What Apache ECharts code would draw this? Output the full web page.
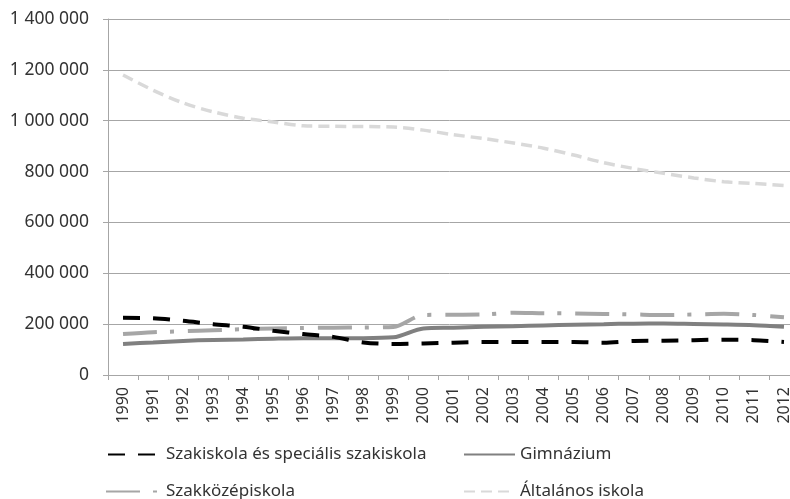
<!DOCTYPE html>
<html>
<head>
<meta charset="utf-8">
<script src="https://cdn.jsdelivr.net/npm/echarts@6/dist/echarts.min.js"></script>
<style>
  html, body { margin: 0; padding: 0; background: #fff; }
  #chart { width: 790px; height: 499px; }
</style>
</head>
<body>
<div id="chart"></div>
<script>
// Tanulók száma iskolatípusonként, 1990–2012
const years = ['1990','1991','1992','1993','1994','1995','1996','1997','1998','1999','2000','2001',
  '2002','2003','2004','2005','2006','2007','2008','2009','2010','2011','2012'];

const szakiskola = [225000, 223000, 213000, 200000, 190000, 174000, 161000, 150000, 128000, 122000, 124000, 127000,
  130000, 130000, 130000, 130000, 127000, 134000, 135000, 137000, 139000, 137000, 130000];

const gimnazium = [122000, 128000, 134000, 138000, 140000, 143000, 145000, 145000, 145000, 148000, 183000, 186000,
  190000, 192000, 195000, 198000, 200000, 202000, 203000, 201000, 199000, 196000, 190000];

const szakkozep = [161000, 168000, 172000, 176000, 180000, 183000, 185000, 186000, 187000, 189000, 236000, 237000,
  238000, 245000, 243000, 242000, 240000, 238000, 236000, 238000, 241000, 236000, 227000];

const altalanos = [1180000, 1120000, 1070000, 1035000, 1010000, 995000, 980000, 978000, 977000, 975000, 963000, 945000,
  930000, 912000, 892000, 865000, 835000, 812000, 793000, 775000, 760000, 753000, 745000];

const seriesNames = ['Szakiskola és speciális szakiskola', 'Gimnázium', 'Szakközépiskola', 'Általános iskola'];

const FONT = 'Noto Sans';
const TEXT = '#333333';

// Thousands separated by spaces: 1 400 000
function fmt(v) {
  return String(v).replace(/\B(?=(\d{3})+(?!\d))/g, ' ');
}

function lineSeries(name, data, color, width, type, z) {
  return {
    name: name, type: 'line', data: data, symbol: 'none', smooth: 0.3, z: z,
    lineStyle: { color: color, width: width, type: type, cap: 'butt' },
    itemStyle: { color: color },
    emphasis: { disabled: true }
  };
}

// One legend block per entry so the two-column layout lines up
function legendAt(name, left, top, iconWidth) {
  return {
    data: [name], left: left, top: top, itemWidth: iconWidth, itemHeight: 12, itemGap: 10,
    itemStyle: { opacity: 0 },
    textStyle: { fontFamily: FONT, fontSize: 17, color: TEXT }
  };
}

const chart = echarts.init(document.getElementById('chart'), null, { renderer: 'canvas' });
chart.setOption({
  animation: false,
  backgroundColor: '#fff',
  grid: { left: 108, top: 19, right: -9, bottom: 124, containLabel: false, outerBoundsMode: 'none' },
  xAxis: {
    type: 'category', data: years, boundaryGap: true,
    axisLine: { lineStyle: { color: '#a6a6a6', width: 1 } },
    axisTick: { show: true, length: 5, lineStyle: { color: '#a6a6a6' } },
    axisLabel: { rotate: 90, interval: 0, fontFamily: FONT, fontSize: 16, color: TEXT, margin: 12 }
  },
  yAxis: {
    type: 'value', min: 0, max: 1400000, interval: 200000,
    axisLine: { show: true, lineStyle: { color: '#a6a6a6', width: 1 } },
    axisTick: { show: true, length: 5, lineStyle: { color: '#a6a6a6' } },
    axisLabel: { formatter: fmt, fontFamily: FONT, fontSize: 17.5, color: TEXT, margin: 19 },
    splitLine: { lineStyle: { color: '#a6a6a6', width: 1 } }
  },
  legend: [
    legendAt(seriesNames[0], 102, 441, 53),
    legendAt(seriesNames[1], 458, 441, 51),
    legendAt(seriesNames[2], 100, 478, 55),
    legendAt(seriesNames[3], 458, 478, 51)
  ],
  series: [
    lineSeries(seriesNames[3], altalanos, '#d9d9d9', 3.5, [11, 6], 1),
    lineSeries(seriesNames[2], szakkozep, '#a6a6a6', 4, [34, 13, 4, 14], 2),
    lineSeries(seriesNames[1], gimnazium, '#808080', 4, 'solid', 3),
    lineSeries(seriesNames[0], szakiskola, '#000000', 4, [17, 13], 4)
  ]
});
</script>
</body>
</html>
